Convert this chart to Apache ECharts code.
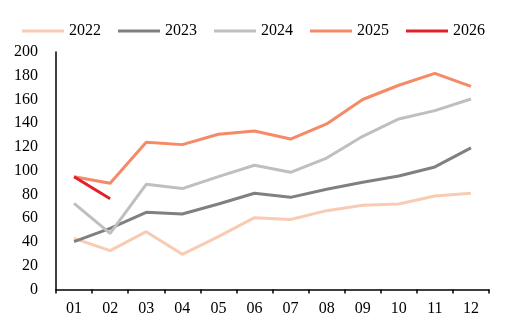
<!DOCTYPE html>
<html>
<head>
<meta charset="utf-8">
<script src="https://cdn.jsdelivr.net/npm/echarts@6/dist/echarts.min.js"></script>
<style>
  html, body { margin: 0; padding: 0; background: #fff; }
  #chart { width: 510px; height: 325px; }
</style>
</head>
<body>
<div id="chart"></div>
<script>
// Months of the year
const months = ['01', '02', '03', '04', '05', '06', '07', '08', '09', '10', '11', '12'];

// Yearly series
const y2022 = [43, 32.7, 48.7, 29.6, 44.5, 60.5, 59, 66.4, 71, 72, 78.7, 81];
const y2023 = [40.3, 51.5, 65, 63.6, 72, 81, 77.6, 84.4, 90.3, 95.6, 103.2, 119.2];
const y2024 = [72.6, 47.3, 88.6, 85, 95, 104.6, 98.7, 110.7, 129, 143.6, 150.6, 160.4];
const y2025 = [95, 89.4, 124, 122, 130.7, 133.5, 126.7, 139.4, 160, 172, 182, 171];
const y2026 = [95, 76.5];

const seriesNames = ['2022', '2023', '2024', '2025', '2026'];
const seriesData = [y2022, y2023, y2024, y2025, y2026];
const seriesColors = ['#f8cbb3', '#808080', '#bfbfbf', '#f58a68', '#e0202a'];

const font = 'Liberation Serif';

const chart = echarts.init(document.getElementById('chart'), null, { renderer: 'canvas' });

chart.setOption({
  animation: false,
  backgroundColor: '#fff',
  textStyle: { fontFamily: font },
  legend: {
    left: 17,
    top: 18,
    padding: 5,
    itemWidth: 42,
    itemHeight: 3,
    itemGap: 17,
    icon: 'rect',
    textStyle: { fontFamily: font, fontSize: 16, color: '#000' },
    data: seriesNames.map((n, i) => ({ name: n, itemStyle: { color: seriesColors[i] } }))
  },
  grid: { left: 56, right: 21, top: 52, bottom: 35.5, containLabel: false },
  xAxis: {
    type: 'category',
    data: months,
    boundaryGap: true,
    axisLine: { show: true, lineStyle: { color: '#000', width: 1.5 } },
    axisTick: { show: true, inside: false, alignWithLabel: false, interval: 0, length: 4, lineStyle: { color: '#000', width: 1.5 } },
    axisLabel: { show: true, color: '#000', fontSize: 16, fontFamily: font, margin: 11, interval: 0 },
    splitLine: { show: false }
  },
  yAxis: {
    type: 'value',
    min: 0,
    max: 200,
    interval: 20,
    axisLine: { show: true, lineStyle: { color: '#000', width: 1.5 } },
    axisTick: { show: false },
    axisLabel: { color: '#000', fontSize: 16, fontFamily: font, margin: 18 },
    splitLine: { show: false }
  },
  series: seriesNames.map((n, i) => ({
    name: n,
    type: 'line',
    data: seriesData[i],
    symbol: 'none',
    lineStyle: { color: seriesColors[i], width: 3 },
    itemStyle: { color: seriesColors[i] },
    z: i + 2
  }))
});
</script>
</body>
</html>
